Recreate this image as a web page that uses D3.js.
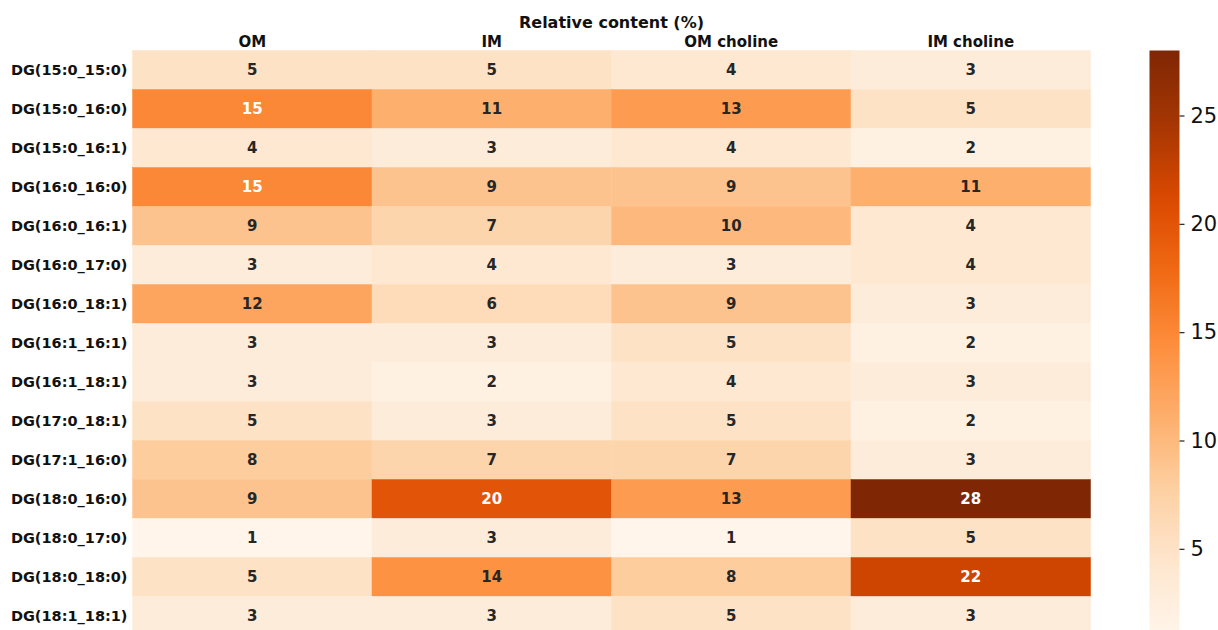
<!DOCTYPE html>
<html>
<head>
<meta charset="utf-8">
<script src="https://cdn.jsdelivr.net/npm/d3@7"></script>
<style>
  html, body { margin: 0; padding: 0; background: #fff; }
  svg { display: block; }
  text { font-family: "DejaVu Sans", sans-serif; }
</style>
</head>
<body>
<svg id="chart" width="1218" height="630"></svg>
<script>
// Diacylglycerol species (rows) and membrane fractions (columns)
const species = [
  "DG(15:0_15:0)", "DG(15:0_16:0)", "DG(15:0_16:1)", "DG(16:0_16:0)",
  "DG(16:0_16:1)", "DG(16:0_17:0)", "DG(16:0_18:1)", "DG(16:1_16:1)",
  "DG(16:1_18:1)", "DG(17:0_18:1)", "DG(17:1_16:0)", "DG(18:0_16:0)",
  "DG(18:0_17:0)", "DG(18:0_18:0)", "DG(18:1_18:1)"
];
const fractions = ["OM", "IM", "OM choline", "IM choline"];

// Relative content (%) per fraction, one entry per species
const omValues        = [5, 15, 4, 15, 9, 3, 12, 3, 3, 5, 8, 9, 1, 5, 3];
const imValues        = [5, 11, 3, 9, 7, 4, 6, 3, 2, 3, 7, 20, 3, 14, 3];
const omCholineValues = [4, 13, 4, 9, 10, 3, 9, 5, 4, 5, 7, 13, 1, 8, 5];
const imCholineValues = [3, 5, 2, 11, 4, 4, 3, 2, 3, 2, 3, 28, 5, 22, 3];

const colorbarTicks = [5, 10, 15, 20, 25];
const chartTitle = "Relative content (%)";

const seriesByFraction = [omValues, imValues, omCholineValues, imCholineValues];
const cells = [];
species.forEach((s, i) => {
  fractions.forEach((f, j) => {
    cells.push({ row: s, col: f, value: seriesByFraction[j][i] });
  });
});

// Layout
const plotLeft = 132.5, plotRight = 1090.5, plotTop = 50.5, rowH = 39;
const plotBottom = plotTop + rowH * species.length;
const cbX = 1149.5, cbW = 30;

const svg = d3.select("#chart");

const x = d3.scaleBand().domain(fractions).range([plotLeft, plotRight]);
const y = d3.scaleBand().domain(species).range([plotTop, plotBottom]);

// Oranges colour ramp (ColorBrewer 9-class), linearly interpolated
const oranges = ["#fff5eb", "#fee6ce", "#fdd0a2", "#fdae6b", "#fd8d3c",
                 "#f16913", "#d94801", "#a63603", "#7f2704"];
const extent = d3.extent(cells, d => d.value);
const rampScale = d3.scaleLinear()
  .domain(d3.range(oranges.length).map(k => extent[0] + k * (extent[1] - extent[0]) / (oranges.length - 1)))
  .range(oranges)
  .interpolate(d3.interpolateRgb);
const color = v => rampScale(v);

function luminance(c) {
  const rgb = d3.rgb(c);
  const lin = [rgb.r, rgb.g, rgb.b].map(v => {
    v /= 255;
    return v <= 0.03928 ? v / 12.92 : Math.pow((v + 0.055) / 1.055, 2.4);
  });
  return 0.2126 * lin[0] + 0.7152 * lin[1] + 0.0722 * lin[2];
}

// Heatmap cells
svg.append("g")
  .selectAll("rect")
  .data(cells)
  .join("rect")
  .attr("x", d => x(d.col))
  .attr("y", d => y(d.row))
  .attr("width", x.bandwidth())
  .attr("height", y.bandwidth())
  .attr("fill", d => color(d.value))
  .attr("stroke", d => color(d.value))
  .attr("stroke-width", 0.5);

// Cell annotations
svg.append("g")
  .selectAll("text")
  .data(cells)
  .join("text")
  .attr("x", d => x(d.col) + x.bandwidth() / 2)
  .attr("y", d => y(d.row) + y.bandwidth() / 2)
  .attr("text-anchor", "middle")
  .attr("dominant-baseline", "central")
  .attr("font-size", 15)
  .attr("font-weight", "bold")
  .attr("fill", d => luminance(color(d.value)) > 0.408 ? "#262626" : "#ffffff")
  .text(d => d3.format("d")(d.value));

// Row labels
const yAxis = svg.append("g")
  .attr("transform", `translate(${plotLeft},0)`)
  .call(d3.axisLeft(y).tickSize(0).tickPadding(5));
yAxis.select(".domain").remove();
yAxis.selectAll("text")
  .attr("font-family", "DejaVu Sans")
  .attr("font-size", 14.5)
  .attr("font-weight", "bold")
  .attr("fill", "#111");

// Column labels on top
const xAxis = svg.append("g")
  .attr("transform", `translate(0,${plotTop})`)
  .call(d3.axisTop(x).tickSize(0).tickPadding(4));
xAxis.select(".domain").remove();
xAxis.selectAll("text")
  .attr("font-family", "DejaVu Sans")
  .attr("font-size", 15)
  .attr("font-weight", "bold")
  .attr("fill", "#111");

// Title
svg.append("text")
  .attr("x", (plotLeft + plotRight) / 2)
  .attr("y", 28)
  .attr("text-anchor", "middle")
  .attr("font-size", 16)
  .attr("font-weight", "bold")
  .attr("fill", "#111")
  .text(chartTitle);

// Colour bar
const cb = d3.scaleLinear().domain(extent).range([plotBottom, plotTop]);
const defs = svg.append("defs");
const grad = defs.append("linearGradient")
  .attr("id", "cbGrad")
  .attr("x1", 0).attr("y1", 1).attr("x2", 0).attr("y2", 0);
d3.range(0, 1.0001, 0.02).forEach(t => {
  const v = extent[0] + t * (extent[1] - extent[0]);
  grad.append("stop").attr("offset", t).attr("stop-color", color(v));
});
svg.append("rect")
  .attr("x", cbX)
  .attr("y", plotTop)
  .attr("width", cbW)
  .attr("height", plotBottom - plotTop)
  .attr("fill", "url(#cbGrad)");

const cbAxis = svg.append("g")
  .attr("transform", `translate(${cbX + cbW},0)`)
  .call(d3.axisRight(cb).tickValues(colorbarTicks).tickSize(5).tickPadding(6));
cbAxis.select(".domain").remove();
cbAxis.selectAll("line").attr("stroke", "#222").attr("stroke-width", 1.2);
cbAxis.selectAll("text")
  .attr("font-family", "DejaVu Sans")
  .attr("font-size", 21)
  .attr("fill", "#111");
</script>
</body>
</html>
